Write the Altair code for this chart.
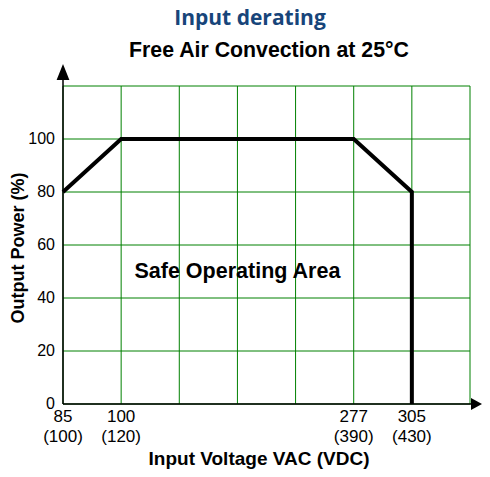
import altair as alt
import pandas as pd

# ---- data ----
tick_pos = [0, 1, 5, 6]                       # grid index of each labelled voltage
vac_labels = ["85", "100", "277", "305"]
vdc_labels = ["(100)", "(120)", "(390)", "(430)"]
curve_x = [0, 1, 5, 6, 6]                     # grid index
curve_y = [80, 100, 100, 80, 0]               # output power %
y_ticks = [0, 20, 40, 60, 80, 100]
grid_x = [0, 1, 2, 3, 4, 5, 6, 7]
grid_y = [0, 20, 40, 60, 80, 100, 120]

W, H = 407, 318
GREEN = "#008000"
FONT = "Liberation Sans"

xs = alt.Scale(domain=[0, 7], nice=False, zero=False)
ys = alt.Scale(domain=[0, 120], nice=False, zero=False)

vgrid_df = pd.DataFrame({"gx": grid_x, "lo": 0, "hi": 120})
hgrid_df = pd.DataFrame({"gy": grid_y, "lo": 0, "hi": 7})
curve_df = pd.DataFrame({"x": curve_x, "y": curve_y, "order": range(len(curve_x))})
xlab_df = pd.DataFrame({"x": tick_pos, "lab": [f"{a}\n{b}" for a, b in zip(vac_labels, vdc_labels)], "y": 0})
ylab_df = pd.DataFrame({"y": y_ticks, "x": 0, "lab": [str(v) for v in y_ticks]})
axes_df = pd.DataFrame({"x": [0, 0], "x2": [7.05, 0], "y": [0, 0], "y2": [0, 122.3]})
arrow_r = pd.DataFrame({"x": [7.112], "y": [0]})
arrow_u = pd.DataFrame({"x": [0], "y": [125.3]})
area_df = pd.DataFrame({"x": [3], "y": [50], "t": ["Safe Operating Area"]})

vgrid = alt.Chart(vgrid_df).mark_rule(color=GREEN, strokeWidth=1).encode(
    x=alt.X("gx:Q", scale=xs, axis=None),
    y=alt.Y("lo:Q", scale=ys, axis=None),
    y2="hi:Q",
)
hgrid = alt.Chart(hgrid_df).mark_rule(color=GREEN, strokeWidth=1).encode(
    y=alt.Y("gy:Q", scale=ys, axis=None),
    x=alt.X("lo:Q", scale=xs, axis=None),
    x2="hi:Q",
)
axes = alt.Chart(axes_df).mark_rule(color="black", strokeWidth=1.5).encode(
    x=alt.X("x:Q", scale=xs, axis=None), x2="x2:Q",
    y=alt.Y("y:Q", scale=ys, axis=None), y2="y2:Q",
)
ar = alt.Chart(arrow_r).mark_point(
    shape="M-1,-1.1L1,0L-1,1.1Z", size=121, filled=True, color="black", opacity=1
).encode(x=alt.X("x:Q", scale=xs, axis=None), y=alt.Y("y:Q", scale=ys, axis=None))
au = alt.Chart(arrow_u).mark_point(
    shape="M-0.8,1L0,-1L0.8,1Z", size=256, filled=True, color="black", opacity=1
).encode(x=alt.X("x:Q", scale=xs, axis=None), y=alt.Y("y:Q", scale=ys, axis=None))

curve = alt.Chart(curve_df).mark_line(color="black", strokeWidth=4, strokeJoin="miter").encode(
    x=alt.X("x:Q", scale=xs, axis=None),
    y=alt.Y("y:Q", scale=ys, axis=None),
    order="order:Q",
)

xlab = alt.Chart(xlab_df).mark_text(
    font=FONT, fontSize=17, color="black", align="center", baseline="alphabetic",
    dy=18, lineBreak="\n", lineHeight=20,
).encode(x=alt.X("x:Q", scale=xs, axis=None), y=alt.Y("y:Q", scale=ys, axis=None), text="lab:N")

ylab = alt.Chart(ylab_df).mark_text(
    font=FONT, fontSize=16, color="black", align="right", baseline="middle", dx=-8,
).encode(x=alt.X("x:Q", scale=xs, axis=None), y=alt.Y("y:Q", scale=ys, axis=None), text="lab:N")

area_txt = alt.Chart(area_df).mark_text(
    font=FONT, fontSize=21.5, fontWeight="bold", color="black", align="center", baseline="middle",
).encode(x=alt.X("x:Q", scale=xs, axis=None), y=alt.Y("y:Q", scale=ys, axis=None), text="t:N")

title_df = pd.DataFrame({"t": ["Input derating"]})
sub_df = pd.DataFrame({"t": ["Free Air Convection at 25°C"]})
xt_df = pd.DataFrame({"t": ["Input Voltage VAC (VDC)"]})
yt_df = pd.DataFrame({"t": ["Output Power (%)"]})

title = alt.Chart(title_df).mark_text(
    font="Open Sans", fontSize=21, fontWeight="bold", color="#17457a", align="center", baseline="alphabetic",
).encode(text="t:N", x=alt.value(187), y=alt.value(-61))
sub = alt.Chart(sub_df).mark_text(
    font=FONT, fontSize=21.3, fontWeight="bold", color="black", align="center", baseline="alphabetic",
).encode(text="t:N", x=alt.value(206), y=alt.value(-29))
xt = alt.Chart(xt_df).mark_text(
    font=FONT, fontSize=19, fontWeight="bold", color="black", align="center", baseline="alphabetic",
).encode(text="t:N", x=alt.value(196), y=alt.value(379))
yt = alt.Chart(yt_df).mark_text(
    font=FONT, fontSize=18, fontWeight="bold", color="black", align="center", baseline="middle", angle=270,
).encode(text="t:N", x=alt.value(-44), y=alt.value(162))

chart = alt.layer(
    vgrid, hgrid, axes, ar, au, curve, xlab, ylab, area_txt, title, sub, xt, yt
).properties(
    width=W, height=H,
    autosize=alt.AutoSizeParams(type="none"),
    padding={"left": 55, "top": 78, "right": 12, "bottom": 65},
).configure_view(stroke=None)

chart.save("out.html", embed_options={"renderer": "svg", "actions": False})
